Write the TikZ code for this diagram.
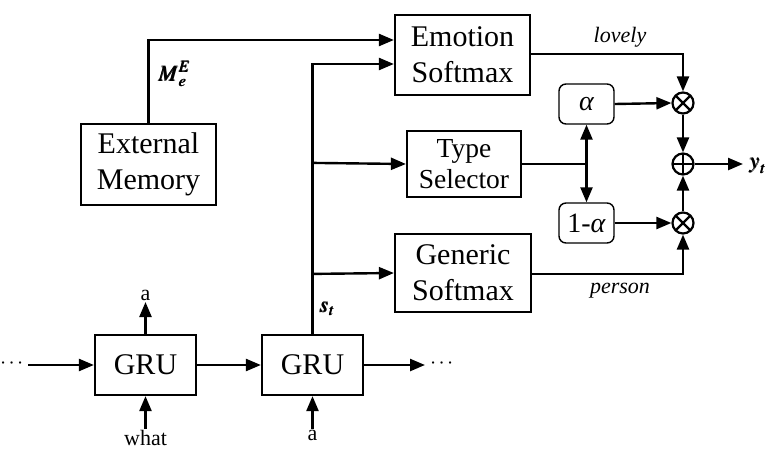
\documentclass[tikz,border=0pt]{standalone}
\usepackage{amsmath}
\usepackage{mathptmx}
\usepackage{bm}
\usepackage{fontspec}
\setmainfont{Liberation Serif}
\usetikzlibrary{arrows.meta}

\tikzset{
	blk/.style={draw,line width=2.2pt,inner sep=0pt,align=center,font=\fontsize{30}{36}\selectfont},
	wt/.style={draw,line width=1.4pt,rounded corners=7pt,inner sep=0pt,minimum width=55pt,minimum height=40pt,font=\fontsize{28}{32}\selectfont},
	op/.style={draw,circle,line width=2.2pt,minimum size=21pt,inner sep=0pt},
	times/.style={op,path picture={\draw[line width=2.2pt] (path picture bounding box.north west)--(path picture bounding box.south east) (path picture bounding box.north east)--(path picture bounding box.south west);}},
	plus/.style={op,path picture={\draw[line width=2.2pt] (path picture bounding box.north)--(path picture bounding box.south) (path picture bounding box.east)--(path picture bounding box.west);}},
	flow/.style={line width=2.4pt,-{Triangle[length=15pt,width=12pt]}},
	lbl/.style={font=\fontsize{22}{24}\selectfont,inner sep=1pt}
}

\begin{document}
\begin{tikzpicture}[x=1pt,y=-1pt]
	\useasboundingbox (0,0) rectangle (774,458);
	% boxes
	\node[blk,minimum width=135pt,minimum height=80pt] (emo) at (462.5,55) {Emotion\\Softmax};
	\node[blk,minimum width=135pt,minimum height=81pt] (ext) at (148.5,164.5) {External\\Memory};
	\node[blk,minimum width=114pt,minimum height=66pt,font=\fontsize{27.5}{31}\selectfont] (type) at (464,164) {Type\\Selector};
	\node[blk,minimum width=136pt,minimum height=78pt] (gen) at (463,273) {Generic\\Softmax};
	\node[blk,minimum width=101pt,minimum height=60pt] (gru1) at (145.5,365) {GRU};
	\node[blk,minimum width=101pt,minimum height=60pt] (gru2) at (312.5,365) {GRU};
	\node[wt] (alpha) at (586.5,104) {\itshape α};
	\node[wt] (oneminus) at (586.5,223) {1-\textit{α}};
	\node[times] (m1) at (683,103) {};
	\node[plus] (sum) at (683,164) {};
	\node[times] (m2) at (683,223) {};

	% free ends
	\coordinate (split) at (586.5,164);
	\coordinate (yend) at (743,164);
	\coordinate (lin) at (28,365);
	\coordinate (rout) at (425,365);
	\coordinate (up1) at (145.5,302);
	\coordinate (in1) at (145.5,429);
	\coordinate (in2) at (312.5,429);

	% texts
	\node[lbl,anchor=west,inner sep=0pt] at (0,364) {$\cdots$};
	\node[lbl,anchor=west,inner sep=0pt] at (430,364) {$\cdots$};
	\node[lbl,above] at (up1) {a};
	\node[lbl,below] at (in1) {what};
	\node[lbl,below] at (in2) {a};
	\node[lbl,anchor=west] at (157,74) {$\bm{M}_{\bm{e}}^{\bm{E}}$};
	\node[lbl,anchor=west] at (318,309) {$\bm{s}_{\bm{t}}$};
	\node[lbl,anchor=west] at (748,166) {$\bm{y}_{\bm{t}}$};
	\node[lbl] at (620,37) {\itshape lovely};
	\node[lbl] at (620,291) {\itshape person};

	% connectors
	\draw[flow] (ext.north) |- ([yshift=15pt]emo.west);
	\draw[flow] (gru2.north) |- ([yshift=-9pt]emo.west);
	\draw[flow] (gru2.north) ++(0,-171) -- (type.west);
	\draw[flow] (gru2.north) ++(0,-60) -- (gen.west);
	\draw[line width=2.4pt] (type.east) -- (split);
	\draw[flow] (split) -- (alpha.south);
	\draw[flow] (split) -- (oneminus.north);
	\draw[flow] (alpha.east) -- (m1.west);
	\draw[flow] (oneminus.east) -- (m2.west);
	\draw[flow] ([yshift=1pt]emo.east) -| (m1.north);
	\draw[flow] ([yshift=-1pt]gen.east) -| (m2.south);
	\draw[flow] (m1.south) -- (sum.north);
	\draw[flow] (m2.north) -- (sum.south);
	\draw[flow] (sum.east) -- (yend);
	\draw[flow] (lin) -- (gru1.west);
	\draw[flow] (gru1.east) -- (gru2.west);
	\draw[flow] (gru2.east) -- (rout);
	\draw[flow] (gru1.north) -- (up1);
	\draw[flow] (in1) -- (gru1.south);
	\draw[flow] (in2) -- (gru2.south);
\end{tikzpicture}
\end{document}
